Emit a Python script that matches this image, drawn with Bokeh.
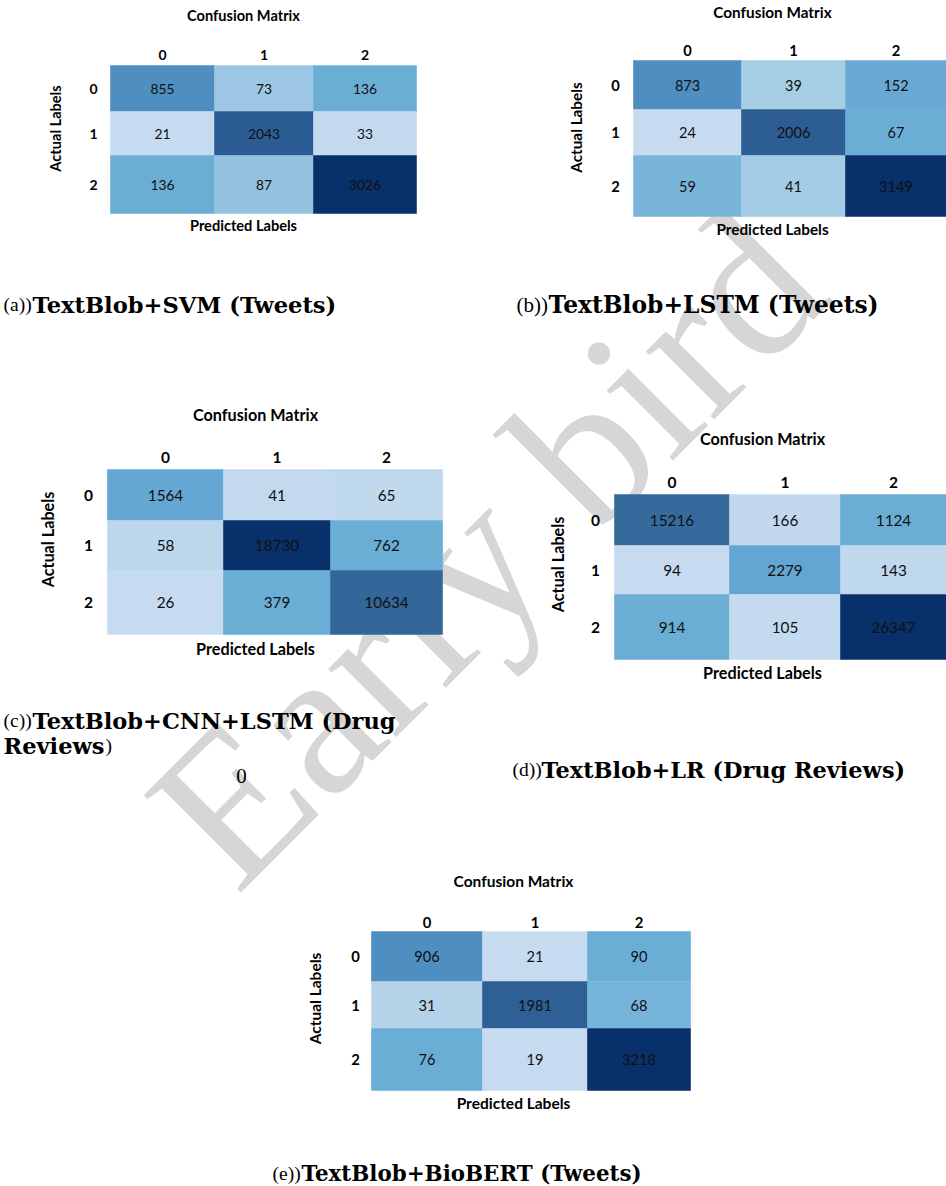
import numpy as np
from bokeh.plotting import figure
from bokeh.models import Range1d, ColumnDataSource
from bokeh.core.properties import value
from bokeh.embed import file_html
from bokeh.resources import INLINE

# ---------------- data ----------------
classes = ["0", "1", "2"]

cm_a = [[855, 73, 136], [21, 2043, 33], [136, 87, 3026]]
cm_b = [[873, 39, 152], [24, 2006, 67], [59, 41, 3149]]
cm_c = [[1564, 41, 65], [58, 18730, 762], [26, 379, 10634]]
cm_d = [[15216, 166, 1124], [94, 2279, 143], [914, 105, 26347]]
cm_e = [[906, 21, 90], [31, 1981, 68], [76, 19, 3218]]

title_text = "Confusion Matrix"
xlabel_text = "Predicted Labels"
ylabel_text = "Actual Labels"

cap_prefix = ["(a))", "(b))", "(c))", "(d))", "(e))"]
cap_bold = ["TextBlob+SVM (Tweets)", "TextBlob+LSTM (Tweets)",
            "TextBlob+CNN+LSTM (Drug", "TextBlob+LR (Drug Reviews)",
            "TextBlob+BioBERT (Tweets)"]
cap_c_line2_bold = "Reviews"
cap_c_line2_reg = ")"
stray_text = "0"
watermark_text = "Early bird"

# ---------------- styles (cell colours) ----------------
col_a = [["#4e8ec0", "#9dc7e4", "#6aaed6"], ["#c6dbef", "#2b5d94", "#c2d9ee"], ["#6aaed6", "#92c2df", "#08306b"]]
col_b = [["#4e8ec0", "#a5cde3", "#69aad5"], ["#c6dbef", "#2c5d93", "#6aaed6"], ["#79b5d9", "#a3cbe4", "#08306b"]]
col_c = [["#64a7d3", "#c3d9ee", "#c1d9ed"], ["#bcd6ec", "#08306b", "#6aaed6"], ["#c6dbef", "#6aaed6", "#336699"]]
col_d = [["#356a9c", "#c2d8ee", "#6aaed6"], ["#c6dbef", "#64a6d2", "#c0d8ed"], ["#6aaed6", "#c4daee", "#08306b"]]
col_e = [["#4e8ec0", "#c6dbef", "#6aaed6"], ["#b4d3e9", "#2e6096", "#77b4d9"], ["#6aaed6", "#c6dbef", "#08306b"]]

# ---------------- layout (page pixel positions) ----------------
panels = [
    dict(cm=cm_a, col=col_a, xe=[110, 214, 313, 416], ye=[65, 111, 155, 213],
         tx=243, ty=15, cly=54, rlx=93, alx=55, aly=128, ply=225, s=1.0),
    dict(cm=cm_b, col=col_b, xe=[633, 741, 845, 946], ye=[60, 109, 155, 216],
         tx=772, ty=11, cly=50, rlx=615, alx=575, aly=127, ply=228, s=1.05),
    dict(cm=cm_c, col=col_c, xe=[107, 223, 330, 442], ye=[469, 520, 570, 634],
         tx=255, ty=414, cly=457, rlx=88, alx=47, aly=539, ply=648, s=1.11),
    dict(cm=cm_d, col=col_d, xe=[614, 729, 840, 946], ye=[494, 545, 594, 659],
         tx=762, ty=438, cly=482, rlx=595, alx=557, aly=564, ply=672, s=1.11),
    dict(cm=cm_e, col=col_e, xe=[371, 482, 587, 690], ye=[931, 981, 1028, 1090],
         tx=513, ty=880, cly=922, rlx=355, alx=314, aly=998, ply=1102, s=1.06),
]
# x of prefix, x of bold part, baseline y, bold font px, prefix font px
captions = [
    (3, 32, 304, 22.6, 19.5),
    (516, 548, 304, 23.4, 21),
    (3, 32, 720, 22.5, 19.5),
    (512, 541, 769, 22.4, 19.5),
    (272, 301, 1173, 21.4, 19.5),
]

W, H = 946, 1186
p = figure(width=W, height=H, x_range=Range1d(0, W), y_range=Range1d(H, 0),
           x_axis_type=None, y_axis_type=None, toolbar_location=None,
           output_backend="svg", min_border=0,
           styles={"margin-left": "0px", "margin-top": "0px"})
p.outline_line_color = None
p.grid.visible = False
p.background_fill_color = "white"
p.border_fill_color = "white"

SANS = value("Lato")
SERIF = value("DejaVu Serif")
RSERIF = value("Liberation Serif")

# watermark (behind everything)
p.text(x=[186], y=[846], text=[watermark_text], angle=45, angle_units="deg",
       text_font=RSERIF, text_font_size="210px",
       text_color="#d6d6d6", text_align="left", text_baseline="alphabetic")

for pn in panels:
    cm = np.array(pn["cm"])
    xe = np.array(pn["xe"], float)
    ye = np.array(pn["ye"], float)
    xc = (xe[:-1] + xe[1:]) / 2
    yc = (ye[:-1] + ye[1:]) / 2
    cw = np.diff(xe)
    ch = np.diff(ye)
    rr, cc = np.meshgrid(range(3), range(3), indexing="ij")
    rr = rr.ravel(); cc = cc.ravel()
    src = ColumnDataSource(dict(
        x=xc[cc], y=yc[rr], w=cw[cc] + 0.6, h=ch[rr] + 0.6,
        v=[str(v) for v in cm.ravel()],
        c=[pn["col"][r][k] for r, k in zip(rr, cc)]))
    s = pn["s"]
    p.rect(x="x", y="y", width="w", height="h", source=src,
           fill_color="c", line_color=None)
    p.text(x="x", y="y", text="v", source=src, text_font=SANS,
           text_font_size=f"{13.8*s:.1f}px", text_color="#111111",
           text_align="center", text_baseline="middle")
    p.text(x=xc, y=[pn["cly"]] * 3, text=classes, text_font=SANS,
           text_font_style="bold", text_font_size=f"{14*s:.1f}px",
           text_color="black", text_align="center", text_baseline="middle")
    p.text(x=[pn["rlx"]] * 3, y=yc, text=classes, text_font=SANS,
           text_font_style="bold", text_font_size=f"{14*s:.1f}px",
           text_color="black", text_align="center", text_baseline="middle")
    p.text(x=[pn["tx"]], y=[pn["ty"]], text=[title_text], text_font=SANS,
           text_font_style="bold", text_font_size=f"{14.6*s:.1f}px",
           text_color="black", text_align="center", text_baseline="middle")
    p.text(x=[pn["tx"]], y=[pn["ply"]], text=[xlabel_text], text_font=SANS,
           text_font_style="bold", text_font_size=f"{14.6*s:.1f}px",
           text_color="black", text_align="center", text_baseline="middle")
    p.text(x=[pn["alx"]], y=[pn["aly"]], text=[ylabel_text], text_font=SANS,
           text_font_style="bold", text_font_size=f"{14.6*s:.1f}px",
           text_color="black", text_align="center", text_baseline="middle",
           angle=90, angle_units="deg")

# captions
for (x0, x1, yb, fb, fp), pre, bold in zip(captions, cap_prefix, cap_bold):
    p.text(x=[x0], y=[yb], text=[pre], text_font=RSERIF,
           text_font_size=f"{fp}px", text_color="black",
           text_align="left", text_baseline="alphabetic")
    p.text(x=[x1], y=[yb], text=[bold], text_font=SERIF, text_font_style="bold",
           text_font_size=f"{fb}px", text_color="black",
           text_align="left", text_baseline="alphabetic")
p.text(x=[3], y=[745], text=[cap_c_line2_bold], text_font=SERIF, text_font_style="bold",
       text_font_size="22.5px", text_color="black", text_align="left", text_baseline="alphabetic")
p.text(x=[105], y=[745], text=[cap_c_line2_reg], text_font=RSERIF,
       text_font_size="19.5px", text_color="black", text_align="left", text_baseline="alphabetic")
p.text(x=[241], y=[775], text=[stray_text], text_font=RSERIF,
       text_font_size="21px", text_color="black", text_align="center", text_baseline="alphabetic")

open("out.html", "w").write(file_html(p, INLINE))
